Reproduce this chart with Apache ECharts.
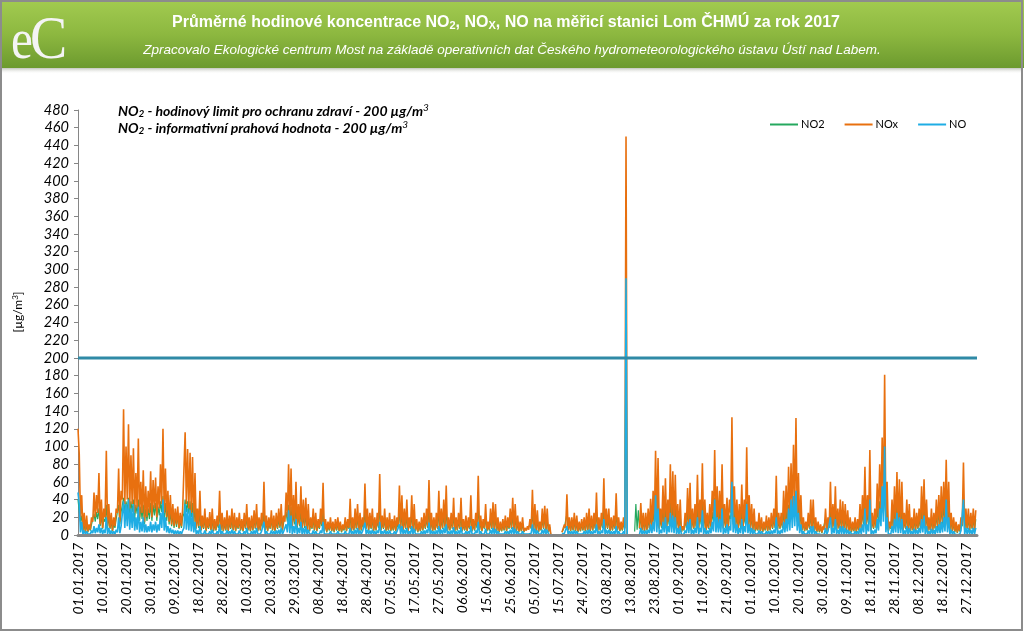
<!DOCTYPE html>
<html>
<head>
<meta charset="utf-8">
<script src="https://cdn.jsdelivr.net/npm/echarts@6/dist/echarts.min.js"></script>
<style>
html,body{margin:0;padding:0;background:#fff;}
#chart{width:1024px;height:632px;}
</style>
</head>
<body>
<div id="chart"></div>
<script>
// ---- data: half-day samples (index i -> hour i*12), pairs per day [night, day] ----
const STEP_HOURS = 12;
const TICK_HOURS = 234;
const tickLabels = ["01.01.2017","10.01.2017","20.01.2017","30.01.2017","09.02.2017","18.02.2017","28.02.2017","10.03.2017","20.03.2017","29.03.2017","08.04.2017","18.04.2017","28.04.2017","07.05.2017","17.05.2017","27.05.2017","06.06.2017","15.06.2017","25.06.2017","05.07.2017","15.07.2017","24.07.2017","03.08.2017","13.08.2017","23.08.2017","01.09.2017","11.09.2017","21.09.2017","01.10.2017","10.10.2017","20.10.2017","30.10.2017","09.11.2017","18.11.2017","28.11.2017","08.12.2017","18.12.2017","27.12.2017"];
const seriesNames = ["NO2","NOx","NO"];
const limitValue = 200;

const noxValues = [
120,92, 20,45, 5,25, 3,22, 4,12, 6,20, 15,48, 20,45, 25,70, 12,40,
8,30, 20,95, 10,35, 8,25, 5,20, 10,30, 25,75, 15,50, 40,142, 35,100,
40,125, 30,90, 35,98, 25,70, 30,109, 20,60, 25,73, 15,55, 20,50, 25,72,
20,62, 30,65, 20,55, 30,80, 35,120, 25,75, 20,50, 15,45, 12,35, 10,30,
12,32, 8,25, 10,30, 30,116, 35,97, 30,93, 25,88, 15,70, 8,30, 10,50,
6,22, 8,30, 5,20, 8,26, 6,30, 5,18, 6,22, 10,50, 6,25, 5,20,
6,28, 5,22, 8,30, 6,25, 5,20, 8,25, 6,18, 5,25, 8,35, 6,20,
5,22, 6,28, 8,35, 5,20, 6,25, 10,60, 6,22, 5,20, 8,28, 6,22,
5,25, 8,30, 10,35, 6,22, 15,48, 20,80, 15,75, 10,45, 15,60, 10,35,
12,55, 8,40, 10,42, 6,35, 5,20, 8,30, 6,25, 5,18, 8,30, 12,59,
5,18, 4,15, 6,20, 5,15, 4,18, 6,20, 5,15, 4,12, 6,20, 5,18,
8,41, 5,20, 6,30, 8,35, 5,25, 6,20, 10,58, 8,30, 6,25, 8,30,
5,20, 6,25, 10,69, 6,22, 8,30, 5,20, 6,25, 5,18, 6,22, 5,20,
10,56, 8,45, 6,30, 8,40, 5,20, 8,45, 6,35, 5,18, 4,15, 5,20,
6,25, 8,30, 10,62, 6,25, 5,20, 6,25, 8,50, 6,30, 8,40, 10,56,
5,20, 6,25, 8,42, 5,20, 6,25, 8,42, 5,18, 6,22, 5,20, 8,45,
5,18, 6,25, 10,67, 6,22, 5,18, 8,35, 5,15, 6,30, 8,37, 6,35,
5,20, 4,15, 5,18, 6,22, 5,20, 8,30, 8,42, 6,35, 5,22, 4,15,
5,20, 4,8, 5,10, 6,18, 8,51, 6,35, 5,28, 4,15, 6,30, 8,33,
6,30, 4,12, 0,null, null,null, null,null, null,null, null,3, 4,12, 8,46, 6,20,
5,20, 6,25, 5,22, 4,15, 5,18, 6,20, 5,25, 6,30, 5,22, 6,25,
8,48, 5,20, 6,25, 10,64, 6,30, 8,30, 5,20, 6,22, 8,47, 6,20,
5,15, 6,20, 8,450, 0,null, null,null, null,null, null,null, null,null, 8,36, 6,25,
5,25, 6,30, 8,41, 10,50, 15,95, 12,87, 8,30, 10,56, 12,64, 8,40,
15,80, 12,72, 10,68, 8,35, 6,40, 4,10, 6,25, 10,53, 10,59, 6,30,
8,35, 10,68, 8,40, 15,81, 8,40, 6,25, 8,35, 10,50, 20,96, 15,55,
12,50, 15,80, 8,35, 10,42, 8,40, 25,133, 15,55, 10,40, 8,35, 10,57,
8,40, 15,99, 10,45, 8,35, 6,30, 5,15, 6,25, 5,20, 4,15, 6,22,
5,20, 6,25, 8,30, 10,67, 6,25, 8,25, 10,50, 12,56, 15,77, 20,81,
25,102, 30,132, 20,70, 10,45, 6,20, 5,15, 6,25, 8,40, 8,40, 5,20,
4,15, 4,12, 3,10, 6,30, 5,20, 10,60, 6,35, 10,55, 6,30, 8,40,
6,38, 8,35, 6,28, 5,20, 4,15, 5,20, 4,18, 6,35, 8,45, 15,77,
8,45, 15,96, 6,25, 8,30, 10,58, 20,80, 30,110, 35,181, 15,60, 5,15,
8,40, 10,55, 12,71, 10,63, 8,60, 6,25, 8,40, 6,35, 5,20, 6,30,
5,25, 8,30, 10,55, 12,63, 8,40, 5,20, 6,30, 5,25, 8,40, 10,45,
12,55, 15,60, 20,85, 12,60, 6,25, 5,20, 4,15, 3,12, 5,20, 12,82,
6,30, 8,30, 6,25, 8,30, 6,28
];

const noValues = [
48,35, 3,15, 1,5, 1,4, 1,3, 1,5, 2,10, 2,8, 3,12, 2,8,
1,6, 2,20, 1,8, 1,5, 1,4, 1,6, 3,20, 2,10, 10,38, 8,35,
10,40, 6,30, 8,35, 5,20, 6,32, 3,15, 4,20, 3,12, 3,10, 4,15,
3,12, 5,15, 3,12, 5,25, 8,40, 5,20, 3,10, 2,8, 2,6, 1,5,
1,5, 1,4, 1,5, 8,35, 6,30, 5,28, 4,25, 3,15, 1,5, 1,10,
1,3, 1,5, 1,3, 1,4, 1,6, 1,3, 1,4, 1,12, 1,4, 1,3,
1,5, 1,4, 1,6, 1,4, 1,3, 1,5, 1,3, 1,4, 1,8, 1,3,
1,4, 1,5, 1,8, 1,3, 1,4, 2,15, 1,4, 1,3, 1,5, 1,4,
1,5, 1,6, 1,8, 1,4, 2,12, 3,28, 2,22, 1,10, 2,18, 1,8,
2,15, 1,8, 1,10, 1,6, 1,3, 1,5, 1,4, 1,3, 1,5, 2,15,
1,3, 1,3, 1,4, 1,3, 1,3, 1,4, 1,3, 1,2, 1,4, 1,3,
1,8, 1,4, 1,6, 1,8, 1,5, 1,4, 2,14, 1,6, 1,5, 1,6,
1,4, 1,5, 2,15, 1,4, 1,6, 1,4, 1,5, 1,3, 1,4, 1,4,
2,12, 1,10, 1,6, 1,8, 1,4, 1,10, 1,7, 1,3, 1,3, 1,4,
1,5, 1,6, 2,14, 1,5, 1,4, 1,5, 1,10, 1,6, 1,8, 2,12,
1,4, 1,5, 1,9, 1,4, 1,5, 1,9, 1,3, 1,4, 1,4, 1,10,
1,3, 1,5, 2,15, 1,4, 1,3, 1,7, 1,3, 1,6, 1,8, 1,7,
1,4, 1,3, 1,3, 1,4, 1,4, 1,6, 1,9, 1,7, 1,4, 1,3,
1,4, 1,2, 1,2, 1,3, 2,12, 1,7, 1,5, 1,3, 1,6, 1,7,
1,6, 1,2, 0,null, null,null, null,null, null,null, null,1, 1,2, 2,10, 1,4,
1,4, 1,5, 1,4, 1,3, 1,3, 1,4, 1,5, 1,6, 1,4, 1,5,
2,12, 1,4, 1,5, 2,18, 1,6, 1,6, 1,4, 1,4, 1,10, 1,4,
1,3, 1,4, 1,290, 0,null, null,null, null,null, null,null, null,null, 1,8, 1,5,
1,5, 1,6, 2,12, 2,15, 4,45, 3,30, 1,6, 2,15, 3,20, 1,10,
3,25, 3,22, 2,20, 1,8, 1,10, 0,2, 1,5, 2,15, 2,18, 1,6,
1,8, 2,20, 1,8, 3,28, 1,8, 1,5, 1,8, 2,15, 4,40, 3,20,
3,18, 3,30, 1,8, 2,12, 1,10, 5,60, 3,20, 2,12, 1,8, 2,18,
1,10, 3,35, 2,12, 1,8, 1,6, 1,3, 1,5, 1,4, 1,3, 1,4,
1,4, 1,5, 1,6, 2,20, 1,5, 1,6, 2,15, 3,18, 4,30, 5,40,
8,44, 10,50, 5,25, 2,12, 1,4, 1,3, 1,5, 1,10, 1,10, 1,4,
1,3, 1,2, 0,2, 1,8, 1,4, 2,20, 1,8, 2,18, 1,6, 1,10,
1,10, 1,8, 1,6, 1,4, 1,3, 1,4, 1,4, 1,8, 1,12, 3,30,
1,12, 4,40, 1,5, 1,6, 2,18, 5,30, 10,55, 15,100, 3,20, 1,3,
1,10, 2,18, 3,25, 2,20, 2,18, 1,5, 1,10, 1,8, 1,4, 1,7,
1,6, 1,8, 2,18, 3,22, 1,10, 1,4, 1,7, 1,6, 1,10, 2,12,
2,15, 3,20, 4,40, 3,20, 1,6, 1,4, 1,3, 0,2, 1,5, 3,40,
1,8, 1,8, 1,6, 1,8, 1,8
];

const no2Values = [
40,38, 15,22, 4,12, 3,12, 3,9, 5,12, 12,24, 15,26, 18,30, 10,22,
7,18, 15,34, 8,20, 7,16, 4,12, 8,18, 18,34, 12,26, 28,42, 26,38,
28,42, 24,38, 26,40, 18,34, 24,40, 16,32, 18,34, 12,30, 16,30, 18,36,
16,34, 22,36, 16,32, 22,38, 26,44, 18,36, 16,30, 12,26, 10,22, 8,20,
9,22, 7,16, 8,20, 24,40, 26,38, 24,38, 20,36, 12,32, 7,20, 8,26,
5,14, 7,18, 4,13, 7,16, 5,18, 4,12, 5,14, 8,26, 5,16, 4,13,
5,18, 4,14, 7,18, 5,16, 4,13, 7,16, 5,12, 4,16, 7,20, 5,13,
4,14, 5,18, 7,20, 4,13, 5,16, 8,26, 5,14, 4,13, 7,18, 5,14,
4,16, 7,18, 8,20, 5,14, 12,26, 15,34, 12,32, 8,24, 12,30, 8,22,
10,28, 7,22, 8,24, 5,20, 4,13, 7,18, 5,16, 4,12, 7,18, 10,28,
4,12, 3,10, 5,13, 4,10, 3,12, 5,13, 4,10, 3,9, 5,13, 4,12,
7,22, 4,13, 5,18, 7,20, 4,16, 5,13, 8,28, 7,18, 5,16, 7,18,
4,13, 5,16, 8,32, 5,14, 7,18, 4,13, 5,16, 4,12, 5,14, 4,13,
8,28, 7,24, 5,18, 7,22, 4,13, 7,24, 5,20, 4,12, 3,10, 4,13,
5,16, 7,18, 8,30, 5,16, 4,13, 5,16, 7,26, 5,18, 7,22, 8,28,
4,13, 5,16, 7,22, 4,13, 5,16, 7,22, 4,12, 5,14, 4,13, 7,24,
4,12, 5,16, 8,32, 5,14, 4,12, 7,20, 4,10, 5,18, 7,22, 5,20,
4,13, 3,10, 4,12, 5,14, 4,13, 7,18, 7,22, 5,20, 4,14, 3,10,
4,13, 3,6, 4,7, 5,12, 7,26, 5,20, 4,18, 3,10, 5,18, 7,20,
5,18, 3,9, 0,null, null,null, null,null, null,null, null,3, 3,9, 7,24, 5,13,
4,13, 5,16, 4,14, 3,10, 4,12, 5,13, 4,16, 5,18, 4,14, 5,16,
7,26, 4,13, 5,16, 8,30, 5,18, 7,18, 4,13, 5,14, 7,24, 5,13,
4,10, 5,13, 7,228, 0,null, null,null, null,null, 4,35, 6,28, 7,22, 5,16,
4,16, 5,18, 7,22, 8,26, 12,38, 10,38, 7,18, 8,30, 10,32, 7,22,
12,38, 10,36, 8,34, 7,20, 5,22, 3,8, 5,16, 8,28, 8,30, 5,18,
7,20, 8,34, 7,22, 12,38, 7,22, 5,16, 7,20, 8,26, 15,42, 12,30,
10,28, 12,36, 7,20, 8,24, 7,22, 18,42, 12,30, 8,22, 7,20, 8,28,
7,22, 12,38, 8,24, 7,20, 5,18, 4,10, 5,16, 4,13, 3,10, 5,14,
4,13, 5,16, 7,18, 8,30, 5,16, 7,16, 8,26, 10,28, 12,34, 15,36,
18,42, 20,46, 15,34, 8,26, 5,13, 4,10, 5,16, 7,22, 7,22, 4,13,
3,10, 3,9, 2,7, 5,18, 4,13, 8,30, 5,20, 8,28, 5,18, 7,22,
5,22, 7,20, 5,18, 4,13, 3,10, 4,13, 3,12, 5,20, 7,26, 12,36,
7,26, 12,40, 5,16, 7,18, 8,30, 15,38, 20,42, 25,52, 12,32, 4,10,
7,22, 8,30, 10,36, 8,32, 7,32, 5,16, 7,22, 5,20, 4,13, 5,18,
4,16, 7,18, 8,28, 10,32, 7,22, 4,13, 5,18, 4,16, 7,22, 8,26,
10,30, 12,32, 15,38, 10,32, 5,16, 4,13, 3,10, 2,8, 4,13, 10,34,
5,18, 7,18, 5,16, 7,18, 5,18
];

const colors = { NO2: "#25A85E", NOx: "#E8700F", NO: "#1FADE4", limit: "#2F8AA6" };
const FONT = "Lato, 'Open Sans', sans-serif";

function toPoints(arr){
  return arr.map((v,i)=>[i*STEP_HOURS, v==null ? '-' : v]);
}
const HOURS_IN_YEAR = 8760;

const chart = echarts.init(document.getElementById('chart'), null, {renderer:'canvas'});
const option = {
  animation:false,
  backgroundColor:'#ffffff',
  graphic:[
    {type:'rect', z:-10, shape:{x:0,y:0,width:1024,height:632}, style:{fill:'#fff'}},
    {type:'rect', z:1, shape:{x:1,y:66,width:1022,height:8}, style:{fill:new echarts.graphic.LinearGradient(0,0,0,1,[{offset:0,color:'rgba(60,70,40,0.55)'},{offset:1,color:'rgba(255,255,255,0)'}])}},
    {type:'rect', z:2, shape:{x:0,y:0,width:1024,height:68}, style:{fill:new echarts.graphic.LinearGradient(0,0,0,1,[{offset:0,color:'#A2CB50'},{offset:0.5,color:'#8DB840'},{offset:1,color:'#6C9A2E'}])}},
    {type:'rect', z:3, shape:{x:1,y:1,width:1021,height:629}, style:{fill:'none', stroke:'#8C8C8C', lineWidth:2}},
    {type:'text', z:4, x:11, y:14, scaleX:0.85, style:{text:'e', font:"58px 'Liberation Serif', serif", fill:'#F4F4F4'}},
    {type:'text', z:4, x:30, y:11, scaleX:0.9, style:{text:'C', font:"62px 'Liberation Serif', serif", fill:'#F4F4F4'}},
    {type:'text', z:4, x:506, y:23, style:{
      text:'Průměrné hodinové koncentrace NO{s|2}, NO{s|X}, NO na měřicí stanici Lom ČHMÚ za rok 2017',
      font:"bold 16px 'Liberation Sans', Arial, sans-serif", fill:'#fff', align:'center', verticalAlign:'middle',
      rich:{s:{font:"bold 11px 'Liberation Sans', Arial, sans-serif", fill:'#fff', verticalAlign:'bottom', padding:[6,0,0,0]}}
    }},
    {type:'text', z:4, x:512, y:50, style:{
      text:'Zpracovalo Ekologické centrum Most na základě operativních dat Českého hydrometeorologického ústavu Ústí nad Labem.',
      font:"italic 13.5px 'Liberation Sans', Arial, sans-serif", fill:'#fff', align:'center', verticalAlign:'middle'
    }},
    {type:'text', z:4, x:118, y:103, style:{
      text:'{b|NO}{s|2}{b| - hodinový limit pro ochranu zdraví - 200 µg/m}{p|3}\n{b|NO}{s|2}{b| - informativní prahová hodnota - 200 µg/m}{p|3}',
      font:"italic bold 14px "+FONT, fill:'#000', lineHeight:17,
      rich:{
        b:{font:"italic bold 14px "+FONT, fill:'#000', lineHeight:17},
        s:{font:"italic bold 10px "+FONT, fill:'#000', lineHeight:17, padding:[5,0,0,0]},
        p:{font:"italic 10px "+FONT, fill:'#000', lineHeight:17, padding:[0,0,7,0]}
      }
    }},
    {type:'text', z:4, x:18, y:312, rotation:Math.PI/2, style:{
      text:'[µg/m{p|3}]', font:"12px "+FONT, fill:'#000', align:'center', verticalAlign:'middle',
      rich:{p:{font:"8px "+FONT, fill:'#000', padding:[0,0,6,0]}}
    }}
  ],
  legend:{
    data:seriesNames, left:765, top:114, itemGap:20, itemWidth:28, itemHeight:2, icon:'rect',
    textStyle:{fontFamily:FONT, fontSize:11, color:'#000', padding:[0,0,0,-2]}
  },
  grid:{left:78, right:47, top:110, bottom:97, containLabel:false},
  xAxis:{
    type:'value', min:0, max:HOURS_IN_YEAR, interval:TICK_HOURS, z:5,
    axisLine:{show:true, onZero:false, lineStyle:{color:'#878787', width:3}},
    axisTick:{show:false},
    splitLine:{show:false},
    axisLabel:{
      rotate:90, margin:8, showMaxLabel:false, fontFamily:FONT, fontStyle:'italic', fontSize:14, color:'#000',
      formatter:function(v){ return (v % TICK_HOURS === 0 && tickLabels[v/TICK_HOURS]) ? tickLabels[v/TICK_HOURS] : ''; }
    }
  },
  yAxis:{
    type:'value', min:0, max:480, interval:20,
    axisLine:{show:true, lineStyle:{color:'#868686', width:1}},
    axisTick:{show:true, inside:false, length:4, lineStyle:{color:'#868686'}},
    splitLine:{show:false},
    axisLabel:{margin:9, fontFamily:FONT, fontStyle:'italic', fontSize:14.5, color:'#000'}
  },
  series:[
    {name:'NO2', type:'line', data:toPoints(no2Values), symbol:'none', showSymbol:false, lineStyle:{width:1.2, color:colors.NO2}, itemStyle:{color:colors.NO2}, z:2},
    {name:'NOx', type:'line', data:toPoints(noxValues), symbol:'none', showSymbol:false, lineStyle:{width:1.6, color:colors.NOx}, itemStyle:{color:colors.NOx}, z:3},
    {name:'NO', type:'line', data:toPoints(noValues), symbol:'none', showSymbol:false, lineStyle:{width:1.6, color:colors.NO}, itemStyle:{color:colors.NO}, z:4},
    {name:'limit', type:'line', data:[[0,limitValue],[HOURS_IN_YEAR,limitValue]], symbol:'none', lineStyle:{width:3, color:colors.limit}, z:4, silent:true}
  ]
};
chart.setOption(option);
if (noxValues.length!==730 || noValues.length!==730 || no2Values.length!==730) {
  throw new Error('lengths: '+noxValues.length+' '+noValues.length+' '+no2Values.length);
}
</script>
</body>
</html>
